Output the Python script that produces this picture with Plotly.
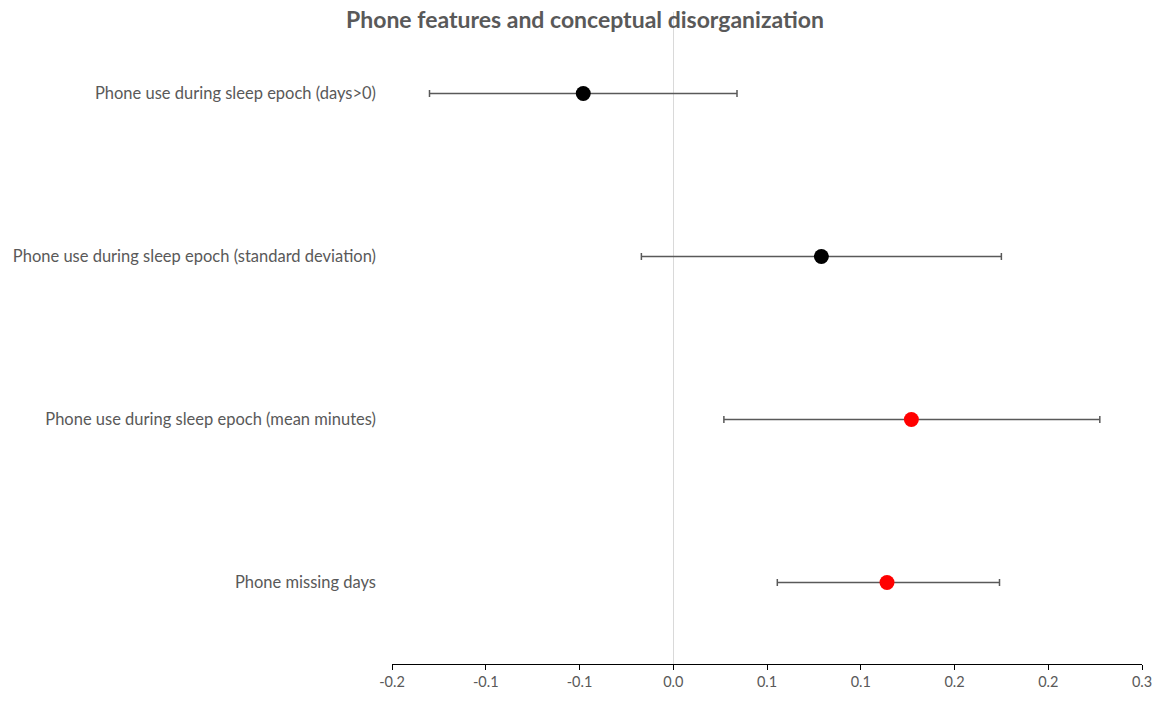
import plotly.graph_objects as go

# Phone features: coefficient estimates with lower / upper confidence bounds
features = [
    "Phone use during sleep epoch (days>0)",
    "Phone use during sleep epoch (standard deviation)",
    "Phone use during sleep epoch (mean minutes)",
    "Phone missing days",
]
estimate = [-0.048, 0.079, 0.127, 0.114]
lower = [-0.130, -0.017, 0.027, 0.0555]
upper = [0.034, 0.175, 0.2275, 0.174]
significant = [False, False, True, True]

x_tick_values = [-0.15, -0.10, -0.05, 0.0, 0.05, 0.10, 0.15, 0.20, 0.25]
x_tick_labels = ["-0.2", "-0.1", "-0.1", "0.0", "0.1", "0.1", "0.2", "0.2", "0.3"]

FONT = "Lato"
GREY = "#595959"

colors = ["#ff0000" if s else "#000000" for s in significant]
err_plus = [u - e for u, e in zip(upper, estimate)]
err_minus = [e - l for e, l in zip(estimate, lower)]

fig = go.Figure()
fig.add_trace(
    go.Scatter(
        x=estimate,
        y=features,
        mode="markers",
        marker=dict(color=colors, size=15, line=dict(width=0)),
        error_x=dict(
            type="data",
            symmetric=False,
            array=err_plus,
            arrayminus=err_minus,
            color=GREY,
            thickness=1.5,
            width=3.5,
        ),
        showlegend=False,
        hoverinfo="x+y",
    )
)

fig.update_layout(
    width=1166,
    height=702,
    margin=dict(l=392, r=24, t=12, b=33),
    paper_bgcolor="white",
    plot_bgcolor="white",
    font=dict(family=FONT, color=GREY, size=16),
    title=dict(
        text="<b>Phone features and conceptual disorganization</b>",
        font=dict(family=FONT, size=23, color=GREY),
        x=585 / 1166,
        xanchor="center",
        xref="container",
        yref="container",
        y=1 - 20 / 702,
        yanchor="middle",
    ),
    xaxis=dict(
        range=[-0.15, 0.25],
        tickvals=x_tick_values,
        ticktext=x_tick_labels,
        showgrid=False,
        zeroline=True,
        zerolinecolor="#d9d9d9",
        zerolinewidth=1,
        showline=True,
        linecolor="#000000",
        linewidth=1,
        ticks="outside",
        ticklen=5,
        tickcolor="#000000",
        tickfont=dict(size=14.5, color=GREY),
    ),
    yaxis=dict(
        type="category",
        categoryorder="array",
        categoryarray=features,
        range=[3.5, -0.5],
        showgrid=False,
        zeroline=False,
        showline=False,
        ticks="",
        ticklabelstandoff=15,
        tickfont=dict(size=16.5, color=GREY),
    ),
)

fig.write_html("out.html")
